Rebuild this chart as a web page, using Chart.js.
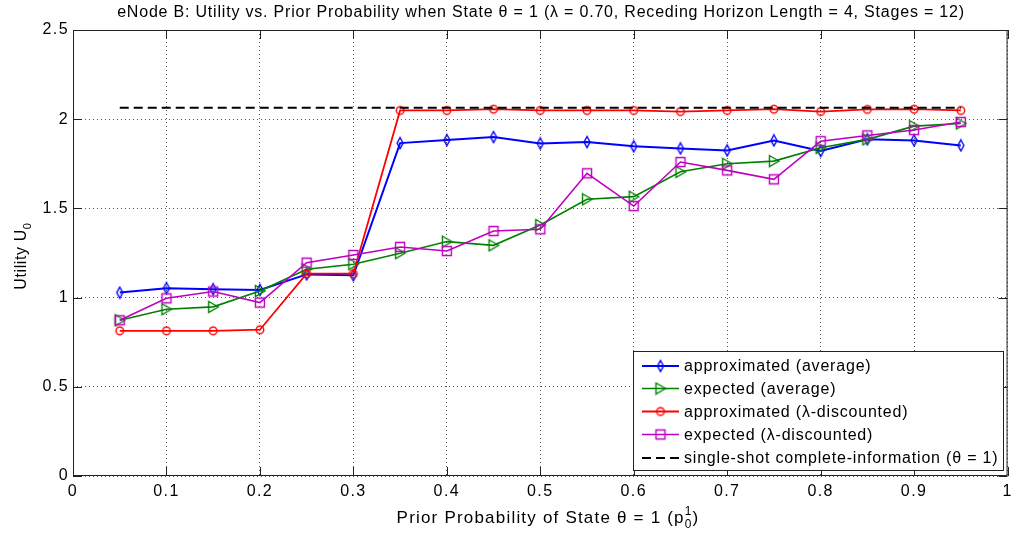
<!DOCTYPE html>
<html>
<head>
<meta charset="utf-8">
<script src="https://cdn.jsdelivr.net/npm/chart.js@4/dist/chart.umd.min.js"></script>
<style>
  html, body { margin: 0; padding: 0; background: #fff; }
  #wrap { width: 1018px; height: 536px; position: relative; }
</style>
</head>
<body>
<div id="wrap"><canvas id="grafico" width="1018" height="536"></canvas></div>
<script>
// prior probability values (x axis)
const priorProb = [0.05, 0.10, 0.15, 0.20, 0.25, 0.30, 0.35, 0.40, 0.45, 0.50,
                   0.55, 0.60, 0.65, 0.70, 0.75, 0.80, 0.85, 0.90, 0.95];

const approxAverage = [1.028, 1.053, 1.047, 1.043, 1.130, 1.125, 1.866, 1.883, 1.900, 1.864,
                       1.872, 1.848, 1.836, 1.825, 1.881, 1.822, 1.887, 1.881, 1.853];
const expectedAverage = [0.873, 0.935, 0.948, 1.037, 1.159, 1.187, 1.249, 1.314, 1.293, 1.407,
                         1.551, 1.566, 1.705, 1.750, 1.765, 1.840, 1.887, 1.961, 1.976];
const approxDiscounted = [0.814, 0.814, 0.814, 0.820, 1.134, 1.134, 2.049, 2.049, 2.056, 2.049,
                          2.049, 2.049, 2.043, 2.049, 2.056, 2.043, 2.055, 2.056, 2.049];
const expectedDiscounted = [0.873, 0.996, 1.034, 0.972, 1.196, 1.239, 1.284, 1.261, 1.373, 1.383,
                            1.697, 1.513, 1.760, 1.713, 1.663, 1.877, 1.909, 1.939, 1.984];
// single-shot complete-information level, drawn from first to last prior value
const completeInfoX = [0.05, 0.95];
const completeInfoY = [2.064, 2.064];

const xTicks = [0, 0.1, 0.2, 0.3, 0.4, 0.5, 0.6, 0.7, 0.8, 0.9, 1];
const yTicks = [0, 0.5, 1, 1.5, 2, 2.5];

const FONT = '"Liberation Sans", Arial, Helvetica, sans-serif';

function pares(xs, ys) {
    return xs.map((x, i) => ({ x: x, y: ys[i] }));
}

// MATLAB-like hollow markers
function marcador(tipo, cor) {
    const c = document.createElement('canvas');
    c.width = 14; c.height = 14;
    const g = c.getContext('2d');
    g.strokeStyle = cor;
    g.lineWidth = 1.4;
    g.beginPath();
    if (tipo === 'diamond') {
        g.moveTo(7, 1.5); g.lineTo(10, 7); g.lineTo(7, 12.5); g.lineTo(4, 7); g.closePath();
    } else if (tipo === 'triangle') {
        g.moveTo(2.5, 1.5); g.lineTo(12, 7); g.lineTo(2.5, 12.5); g.closePath();
    } else if (tipo === 'circle') {
        g.arc(7, 7, 3.8, 0, Math.PI * 2);
    } else if (tipo === 'square') {
        g.rect(2.5, 2.5, 9, 9);
    }
    g.stroke();
    return c;
}

const series = [
    { label: 'approximated (average)', data: pares(priorProb, approxAverage), color: '#0000ff', marker: 'diamond', width: 2, order: 5 },
    { label: 'expected (average)', data: pares(priorProb, expectedAverage), color: '#008000', marker: 'triangle', width: 1.6, order: 4 },
    { label: 'approximated (\u03bb-discounted)', data: pares(priorProb, approxDiscounted), color: '#ff0000', marker: 'circle', width: 1.8, order: 3 },
    { label: 'expected (\u03bb-discounted)', data: pares(priorProb, expectedDiscounted), color: '#bf00bf', marker: 'square', width: 1.6, order: 2 },
];

const datasets = series.map(s => ({
    label: s.label,
    data: s.data,
    borderColor: s.color,
    backgroundColor: s.color,
    borderWidth: s.width,
    pointStyle: marcador(s.marker, s.color),
    pointRadius: 5,
    pointHoverRadius: 5,
    tension: 0,
    order: s.order
}));
datasets.push({
    label: 'single-shot complete-information (\u03b8 = 1)',
    data: pares(completeInfoX, completeInfoY),
    borderColor: '#000000',
    borderWidth: 2,
    borderDash: [9, 5],
    pointRadius: 0,
    tension: 0,
    order: 1
});

// text with sub/superscript pieces
function textoRico(ctx, partes, x, y, size, align, spacing) {
    ctx.letterSpacing = spacing + 'px';
    let total = 0;
    const larg = partes.map(p => {
        ctx.font = (p.small ? size * 0.7 : size) + 'px ' + FONT;
        const w = p.stack ? 0 : ctx.measureText(p.t).width;
        total += w;
        return w;
    });
    let cx = align === 'center' ? x - total / 2 : x;
    ctx.textAlign = 'left';
    ctx.textBaseline = 'middle';
    partes.forEach((p, i) => {
        ctx.font = (p.small ? size * 0.7 : size) + 'px ' + FONT;
        ctx.fillText(p.t, cx, y + (p.dy || 0));
        cx += larg[i];
    });
    ctx.letterSpacing = '0px';
}

const molduraPlugin = {
    id: 'moldura',
    beforeDraw(chart) {
        // wider MATLAB-like spacing for tick labels
        chart.ctx.letterSpacing = '1.4px';
    },
    afterDraw(chart) {
        const ctx = chart.ctx;
        const a = chart.chartArea;
        const xs = chart.scales.x, ys = chart.scales.y;
        ctx.save();
        // axes box
        ctx.strokeStyle = '#222';
        ctx.lineWidth = 1;
        ctx.strokeRect(a.left + 0.5, a.top + 0.5, a.right - a.left - 1, a.bottom - a.top - 1);
        // inward ticks
        ctx.beginPath();
        xTicks.forEach(v => {
            const px = Math.round(xs.getPixelForValue(v)) + 0.5;
            ctx.moveTo(px, a.bottom); ctx.lineTo(px, a.bottom - 9);
            ctx.moveTo(px, a.top); ctx.lineTo(px, a.top + 9);
        });
        yTicks.forEach(v => {
            const py = Math.round(ys.getPixelForValue(v)) + 0.5;
            ctx.moveTo(a.left, py); ctx.lineTo(a.left + 9, py);
            ctx.moveTo(a.right, py); ctx.lineTo(a.right - 9, py);
        });
        ctx.stroke();

        ctx.fillStyle = '#000';
        // title
        textoRico(ctx, [{ t: 'eNode B: Utility vs. Prior Probability when State \u03b8 = 1 (\u03bb = 0.70, Receding Horizon Length = 4, Stages = 12)' }],
            541, 13, 16, 'center', 0.8);
        // x title
        textoRico(ctx, [
            { t: 'Prior Probability of State \u03b8 = 1 (p' },
            { t: '1', small: true, dy: -6, stack: true },
            { t: '0', small: true, dy: 7 },
            { t: ')' }
        ], 548, 518, 17, 'center', 1.2);
        // y title (rotated)
        ctx.save();
        ctx.translate(22, 256);
        ctx.rotate(-Math.PI / 2);
        textoRico(ctx, [{ t: 'Utility U' }, { t: '0', small: true, dy: 6 }], 0, 0, 16, 'center', 0.6);
        ctx.restore();

        // legend box
        const lx = 633, ly = 351, lw = 370, lh = 119;
        ctx.fillStyle = '#fff';
        ctx.fillRect(lx, ly, lw, lh);
        ctx.strokeStyle = '#222';
        ctx.strokeRect(lx + 0.5, ly + 0.5, lw, lh);
        const rows = [366, 388.5, 411.5, 434.5, 458];
        chart.data.datasets.forEach((ds, i) => {
            const yy = rows[i];
            ctx.save();
            ctx.strokeStyle = ds.borderColor;
            ctx.lineWidth = ds.borderWidth;
            ctx.setLineDash(ds.borderDash || []);
            ctx.beginPath();
            ctx.moveTo(642, yy); ctx.lineTo(679, yy);
            ctx.stroke();
            ctx.restore();
            if (ds.pointRadius > 0 && ds.pointStyle instanceof HTMLCanvasElement) {
                ctx.drawImage(ds.pointStyle, 660.5 - 7, yy - 7);
            }
            ctx.fillStyle = '#000';
            ctx.font = '16px ' + FONT;
            ctx.letterSpacing = '0.8px';
            ctx.textAlign = 'left';
            ctx.textBaseline = 'middle';
            ctx.fillText(ds.label, 684, yy + 1);
        });
        ctx.letterSpacing = '0px';
        ctx.restore();
    }
};

const ctx = document.getElementById('grafico').getContext('2d');
const grafico = new Chart(ctx, {
    type: 'line',
    data: { datasets: datasets },
    options: {
        responsive: false,
        animation: false,
        devicePixelRatio: 1,
        layout: { padding: { top: 30, right: 8, left: 0, bottom: 0 } },
        plugins: {
            legend: { display: false },
            tooltip: { enabled: false },
            title: { display: false }
        },
        scales: {
            x: {
                type: 'linear',
                min: 0, max: 1,
                afterFit: s => { s.height = 60; },
                afterBuildTicks: s => { s.ticks = xTicks.map(v => ({ value: v })); },
                ticks: {
                    color: '#000',
                    font: { family: FONT, size: 16 },
                    padding: 6,
                    maxRotation: 0,
                    callback: v => String(+v.toFixed(2))
                },
                grid: { color: '#555', drawTicks: false, lineWidth: 1 },
                border: { display: false, dash: [1, 3] }
            },
            y: {
                min: 0, max: 2.5,
                afterFit: s => { s.width = 73; },
                afterBuildTicks: s => { s.ticks = yTicks.map(v => ({ value: v })); },
                ticks: {
                    color: '#000',
                    font: { family: FONT, size: 16 },
                    padding: 4,
                    callback: v => String(+v.toFixed(2))
                },
                grid: { color: '#555', drawTicks: false, lineWidth: 1 },
                border: { display: false, dash: [1, 3] }
            }
        }
    },
    plugins: [molduraPlugin]
});
</script>
</body>
</html>
